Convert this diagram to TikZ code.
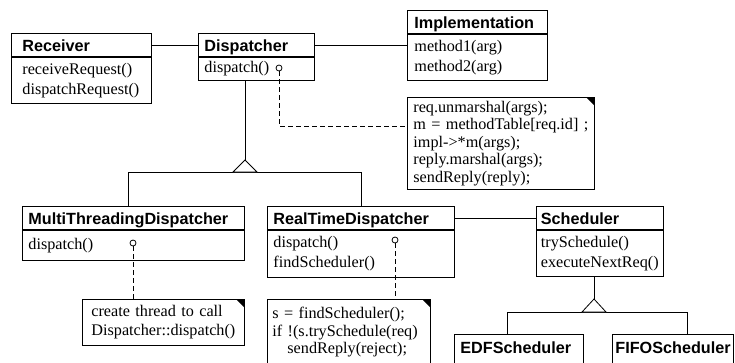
\documentclass[tikz,border=0pt]{standalone}
\usepackage{fontspec}
\setmainfont{Liberation Serif}
\newfontfamily\clsfont{Liberation Sans}
\usetikzlibrary{positioning}

\begin{document}
\begin{tikzpicture}
    [
        x=1pt,
        y=-1pt,
        line width=0.8pt,
        every node/.style={font=\fontsize{16.2}{20}\selectfont},
        class title/.style={draw, anchor=north west, minimum height=23pt,
            inner xsep=6pt, inner ysep=0pt, align=left,
            text height=14pt, text depth=0pt,
            font=\clsfont\bfseries\fontsize{16.2}{20}\selectfont},
        class body/.style={draw, anchor=north west, inner xsep=6pt,
            inner ysep=0pt, align=left},
        note/.style={draw, fill=white, anchor=north west, inner xsep=7pt,
            inner ysep=0pt, align=left,
            font=\fontsize{16.2}{17.5}\selectfont},
        op dot/.style={draw, circle, fill=white, inner sep=0pt,
            minimum size=6pt},
        note link/.style={dash pattern=on 4.5pt off 3.5pt},
        generalize/.style={fill=white}
    ]
    \useasboundingbox (0,0) rectangle (735,362);
    \clip (0,0) rectangle (735,362);

    % top row
    \node (recv) [class title, text width=118pt, inner xsep=11pt]
        at (11,33) {Receiver};
    \node (recv body) [class body, text width=118pt, inner xsep=11pt,
        minimum height=46pt] at (recv.south west)
        {receiveRequest()\\dispatchRequest()};

    \node (disp) [class title, text width=104pt] at (198,33) {Dispatcher};
    \node (disp body) [class body, text width=104pt, minimum height=23pt]
        at (disp.south west) {dispatch()};

    \node (impl) [class title, text width=126pt, inner xsep=7pt]
        at (407,10) {Implementation};
    \node (impl body) [class body, text width=126pt, inner xsep=7pt,
        minimum height=46pt] at (impl.south west)
        {method1(arg)\\method2(arg)};

    \node (impl note) [note, text width=175pt, inner xsep=6pt,
        minimum height=92pt] at (407,97)
        {req.unmarshal(args);\\\mbox{m = methodTable[req.id] ;}\\
         impl->*m(args);\\reply.marshal(args);\\sendReply(reply);};

    % middle row
    \node (multi) [class title, text width=210pt] at (22,206)
        {MultiThreadingDispatcher};
    \node (multi body) [class body, text width=210pt, minimum height=30pt]
        at (multi.south west) {dispatch()};

    \node (rt) [class title, text width=175pt] at (267,206)
        {RealTimeDispatcher};
    \node (rt body) [class body, text width=175pt, minimum height=47pt]
        at (rt.south west) {dispatch()\\findScheduler()};

    \node (sched) [class title, text width=118pt, inner xsep=4.5pt]
        at (536,206) {Scheduler};
    \node (sched body) [class body, text width=118pt, inner xsep=4.5pt,
        minimum height=46pt] at (sched.south west)
        {trySchedule()\\executeNextReq()};

    % bottom row
    \node (multi note) [note, text width=144pt, inner xsep=9pt,
        minimum height=46pt, font=\fontsize{16.2}{19}\selectfont]
        at (82,299) {create thread to call\\Dispatcher::dispatch()};

    \node (rt note) [note, text width=153pt, inner xsep=5pt,
        minimum height=66pt] at (267,299)
        {s = findScheduler();\\if !(s.trySchedule(req)\\
         \hspace*{15pt}sendReply(reject);};

    \node (edf) [class title, text width=117pt, text height=18.6pt,
        text depth=25pt] at (454,334) {EDFScheduler};
    \node (fifo) [class title, text width=115pt, inner xsep=3pt,
        text height=18.6pt, text depth=25pt] at (612,334) {FIFOScheduler};

    \foreach \n in {impl note,multi note,rt note}
        \fill (\n.north east) -- ++(-9,0) -- ++(9,9) -- cycle;

    % associations
    \draw (recv.east) -- (disp.west);
    \draw (disp.east) -- (disp.east -| impl body.west);
    \draw (rt.east) -- (sched.west);

    % generalizations
    \coordinate (disp tip) at (245,160);
    \coordinate (multi up) at (128,172);
    \coordinate (rt up)    at (361,172);
    \draw (disp tip) -- (disp tip |- disp body.south);
    \draw (multi up |- multi.north) -- (multi up) -- (rt up)
        -- (rt up |- rt.north);
    \draw[generalize] (disp tip) -- ++(-12,12) -- ++(24,0) -- cycle;

    \coordinate (sched tip) at (594,299);
    \coordinate (edf up)    at (507,312);
    \coordinate (fifo up)   at (687,312);
    \draw (sched tip) -- (sched tip |- sched body.south);
    \draw (edf up |- edf.north) -- (edf up) -- (fifo up)
        -- (fifo up |- fifo.north);
    \draw[generalize] (sched tip) -- ++(-12,13) -- ++(24,0) -- cycle;

    % notes attached to operations
    \node (disp op)  [op dot] at (279,68)  {};
    \node (multi op) [op dot] at (133,243) {};
    \node (rt op)    [op dot] at (395,240) {};
    \coordinate (impl link) at (407,126);

    \draw[note link] (disp op) |- (impl link);
    \draw[note link] (multi op) -- (multi op |- multi note.north);
    \draw[note link] (rt op) -- (rt op |- rt note.north);
\end{tikzpicture}
\end{document}
